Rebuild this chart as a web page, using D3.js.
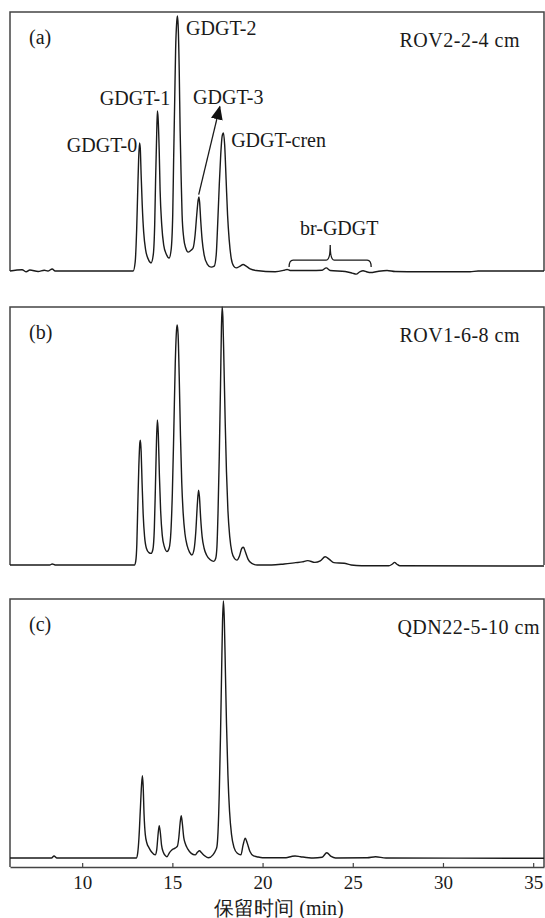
<!DOCTYPE html>
<html>
<head>
<meta charset="utf-8">
<script src="https://cdn.jsdelivr.net/npm/d3@7"></script>
<style>
body{margin:0;background:#fff;}
svg{display:block;}
svg text{font-family:"Liberation Serif",serif;}
</style>
</head>
<body>
<div id="chart"></div>
<script>
// retention time (min), relative signal (0-100 of panel height)
const traceA = [[6.0,0],[6.67,0.5],[6.9,-0.3],[7.1,0.4],[7.56,-0.2],[7.9,0.3],[8.1,0],[8.34,0.8],[8.5,0],[12.83,0],
[12.94,3.5],[13.02,15.8],[13.08,31],[13.13,43],[13.18,49.4],[13.22,47.5],[13.27,37],[13.33,25.5],[13.41,15],[13.52,8.1],[13.66,4.6],[13.82,3.1],
[13.94,6.2],[14.02,17.8],[14.07,35],[14.13,52.5],[14.17,61.8],[14.21,59],[14.27,46.7],[14.32,31.3],[14.41,17.8],[14.52,10],[14.66,6.6],[14.82,5],
[14.93,8.1],[15.02,21.6],[15.07,42.9],[15.13,66],[15.18,85.3],[15.24,96],[15.28,98.5],[15.32,95],[15.38,77.6],[15.43,54.4],[15.49,35.1],[15.54,21.6],[15.63,12.7],[15.74,8.9],[15.88,7.3],[16.05,8.1],[16.15,8.9],
[16.26,13.9],[16.35,21.6],[16.43,27.4],[16.47,28.6],[16.51,26.6],[16.57,19.7],[16.65,12],[16.76,6.2],[16.93,2.7],[17.15,1.5],[17.32,1.9],
[17.43,6.2],[17.51,17.8],[17.6,33.2],[17.68,44.8],[17.76,52.1],[17.83,53.3],[17.9,48.6],[17.98,35.1],[18.06,21.6],[18.15,12],[18.26,5],[18.4,1.9],[18.54,1.2],
[18.76,1.9],[18.92,2.5],[19.09,1.9],[19.31,0.8],[19.65,0.2],
[20.7,-0.3],[21.2,0.3],[21.36,0.6],[21.53,0.2],[22.64,0.2],[23.3,0.3],[23.53,1.2],[23.75,0.2],[24.58,-0.2],[24.97,-0.8],[25.19,-1.2],[25.41,-0.2],[25.57,0.1],[25.8,-0.4],[26.0,-0.6],[26.35,-0.2],[26.9,0.2],[27.35,-0.2],[28.74,-0.3],[31.5,-0.3],[31.95,0],[35.6,0]];

const traceB = [[6.0,0],[8.2,0],[8.34,0.4],[8.5,0],[12.9,0],
[12.97,1.5],[13.03,8],[13.08,22],[13.14,38],[13.2,47.5],[13.23,48.4],[13.27,44],[13.32,32],[13.38,20],[13.46,11],[13.56,6.5],[13.7,4.8],[13.82,4.5],
[13.92,6],[14.0,14],[14.06,30],[14.12,48],[14.17,56.2],[14.22,51],[14.28,35],[14.35,21],[14.44,11.5],[14.56,7],[14.7,5.2],
[14.82,6.5],[14.92,13],[15.0,28],[15.08,52],[15.16,78],[15.23,91],[15.27,93],[15.32,89],[15.38,73],[15.45,50],[15.52,32],[15.6,20],[15.7,12],[15.82,7.5],[15.95,5],[16.08,3.9],
[16.2,6],[16.3,13],[16.38,23],[16.45,29],[16.5,26.5],[16.57,18],[16.65,11],[16.76,6.5],[16.9,3.8],[17.1,2],[17.3,1.4],
[17.4,2.5],[17.47,7],[17.53,20],[17.6,42],[17.67,70],[17.72,92],[17.76,100],[17.8,96],[17.86,78],[17.93,55],[18.0,36],[18.08,21],[18.18,11],[18.3,5],[18.45,2.5],[18.58,1.9],
[18.72,3.5],[18.85,6.5],[18.94,6.9],[19.05,5],[19.2,2.2],[19.4,0.6],[19.7,0],
[20.5,0],[21.2,0.4],[21.83,0.9],[22.2,1.2],[22.5,1.7],[22.9,1.0],[23.2,1.6],[23.47,3.2],[23.7,2.2],[23.95,0.9],[24.52,0.7],[24.91,0],[25.49,-0.3],[27.0,-0.3],[27.2,0.4],[27.32,1.0],[27.45,0.3],[27.61,-0.3],[35.6,-0.4]];

const traceC = [[6.0,0],[8.3,0],[8.44,0.8],[8.6,0],[13.0,0],
[13.08,2],[13.15,8],[13.22,18],[13.29,28],[13.34,31.8],[13.38,28],[13.43,17],[13.5,9],[13.59,5.7],[13.7,4],[13.85,2.3],[14.05,1.2],
[14.13,3],[14.2,8.5],[14.27,12.5],[14.33,10],[14.4,5],[14.5,2.2],[14.6,1],[14.7,0.5],
[14.85,2.2],[14.97,3.1],[15.15,3.8],[15.28,4.6],
[15.36,8],[15.43,13.5],[15.49,16.3],[15.55,13.5],[15.63,8],[15.71,5.7],[15.85,3.5],[16.05,1.8],[16.26,1.2],
[16.4,2.3],[16.5,2.8],[16.62,2.0],[16.8,0.8],[17.0,0.1],
[17.25,1.2],[17.4,3],[17.47,4.4],
[17.53,10],[17.6,25],[17.67,48],[17.73,72],[17.78,91],[17.83,99.2],[17.88,92],[17.94,72],[18.0,52],[18.08,32],[18.17,18],[18.28,9],[18.42,4],[18.6,1.8],[18.8,1.2],
[18.92,5],[19.04,7.6],[19.14,6],[19.3,2.5],[19.5,0.8],[19.68,0.5],[20.0,0.1],
[21.3,0.1],[21.6,0.6],[21.8,0.8],[22.1,0.5],[22.8,0],[23.3,0.3],[23.56,2.0],[23.8,0.6],[24.05,0],[25.8,0.1],[26.26,0.5],[26.84,0],[35.6,-0.1]];

const xTicks = [10, 15, 20, 25, 30, 35];
const panelTags = ["(a)", "(b)", "(c)"];
const sampleNames = ["ROV2-2-4 cm", "ROV1-6-8 cm", "QDN22-5-10 cm"];
const peakNames = ["GDGT-0", "GDGT-1", "GDGT-2", "GDGT-3", "GDGT-cren", "br-GDGT"];
const xTitle = "保留时间 (min)";

const w = 545, h = 918;
const left = 10, right = 544;
const axisY = 867;
const serif = '"Liberation Serif", serif';

const svg = d3.select("#chart").append("svg")
  .attr("width", w).attr("height", h);

const x = d3.scaleLinear().domain([6, 35.6]).range([left, right]);

const panels = [
  {trace: traceA, top: 12, base: 271, nameRight: 520},
  {trace: traceB, top: 307, base: 565, nameRight: 520},
  {trace: traceC, top: 599, base: 858, nameRight: 540}
];

const ink = "#1a1a1a";
const frame = "#444";

panels.forEach((p, i) => {
  const y = d3.scaleLinear().domain([0, 100]).range([p.base, p.top]);
  p.y = y;
  const g = svg.append("g");

  // frame: open bottom for (a),(b), closed with the axis for (c)
  const bottom = i == 2 ? axisY : p.base;
  g.append("path")
    .attr("d", `M${left},${bottom}V${p.top}H${right}V${bottom}`)
    .attr("fill", "none").attr("stroke", frame).attr("stroke-width", 1.5);

  const line = d3.line().x(d => x(d[0])).y(d => y(d[1])).curve(d3.curveMonotoneX);
  g.append("path").datum(p.trace)
    .attr("d", line)
    .attr("fill", "none").attr("stroke", ink).attr("stroke-width", 1.4)
    .attr("stroke-linejoin", "round");

  g.append("text")
    .attr("x", 29).attr("y", p.top + 32)
    .attr("font-family", serif)
    .style("font-size", "20px").attr("fill", ink)
    .text(panelTags[i]);
  g.append("text")
    .attr("x", p.nameRight).attr("y", p.top + 35)
    .attr("text-anchor", "end")
    .attr("font-family", serif)
    .style("font-size", "20px").style("letter-spacing", "0.5px").attr("fill", ink)
    .text(sampleNames[i]);
});

// x axis under panel (c)
const xAxis = d3.axisBottom(x).tickValues(xTicks)
  .tickSizeInner(-4).tickSizeOuter(0).tickPadding(9);
const ax = svg.append("g")
  .attr("transform", `translate(0,${axisY})`)
  .call(xAxis)
  .attr("font-family", serif);
ax.select(".domain").attr("stroke", frame).attr("stroke-width", 1.5);
ax.selectAll(".tick line").attr("stroke", frame).attr("stroke-width", 1.2);
ax.selectAll(".tick text")
  .attr("fill", ink)
  .style("font-size", "19px");

svg.append("text")
  .attr("x", (x(6) + x(35.6)) / 2 + 2).attr("y", 915)
  .attr("text-anchor", "middle")
  .attr("font-family", '"Liberation Serif", "Noto Sans CJK SC", serif')
  .style("font-size", "20px").attr("fill", ink)
  .text(xTitle);

// peak annotations in panel (a), anchored in (time, signal)
const ya = panels[0].y;
const peakLabels = [
  {t: 13.05, v: 45.9, anchor: "end"},
  {t: 14.88, v: 64.1, anchor: "end"},
  {t: 15.76, v: 91.1, anchor: "start"},
  {t: 16.15, v: 64.5, anchor: "start"},
  {t: 18.26, v: 48, anchor: "start"},
  {t: 24.25, v: 14.0, anchor: "middle"}
];
svg.append("g").selectAll("text.peak")
  .data(peakLabels)
  .enter()
  .append("text")
  .attr("class", "peak")
  .attr("x", d => x(d.t))
  .attr("y", d => ya(d.v))
  .attr("text-anchor", d => d.anchor)
  .attr("font-family", serif)
  .style("font-size", "20px")
  .attr("fill", ink)
  .text((d, i) => peakNames[i]);

// arrow to GDGT-3
svg.append("defs").append("marker")
  .attr("id", "head")
  .attr("markerUnits", "userSpaceOnUse")
  .attr("markerWidth", 14).attr("markerHeight", 12)
  .attr("refX", 13).attr("refY", 6)
  .attr("orient", "auto")
  .append("path").attr("d", "M0,0L14,6L0,12Z").attr("fill", "#111");

svg.append("line")
  .attr("x1", x(16.46)).attr("y1", ya(29.5))
  .attr("x2", x(17.63)).attr("y2", ya(63.5))
  .attr("stroke", ink).attr("stroke-width", 1.3)
  .attr("marker-end", "url(#head)");

// bracket over br-GDGT
const b0 = x(21.47), b1 = x(26.02), bm = x(23.75);
const yEnd = ya(1.5), yBar = ya(4.2), yTip = ya(10);
const br = d3.path();
br.moveTo(b0, yEnd);
br.quadraticCurveTo(b0, yBar, b0 + 4, yBar);
br.lineTo(bm - 4, yBar);
br.quadraticCurveTo(bm, yBar, bm, yTip);
br.quadraticCurveTo(bm, yBar, bm + 4, yBar);
br.lineTo(b1 - 4, yBar);
br.quadraticCurveTo(b1, yBar, b1, yEnd);
svg.append("path").attr("d", br.toString())
  .attr("fill", "none").attr("stroke", ink).attr("stroke-width", 1.3);
</script>
</body>
</html>
